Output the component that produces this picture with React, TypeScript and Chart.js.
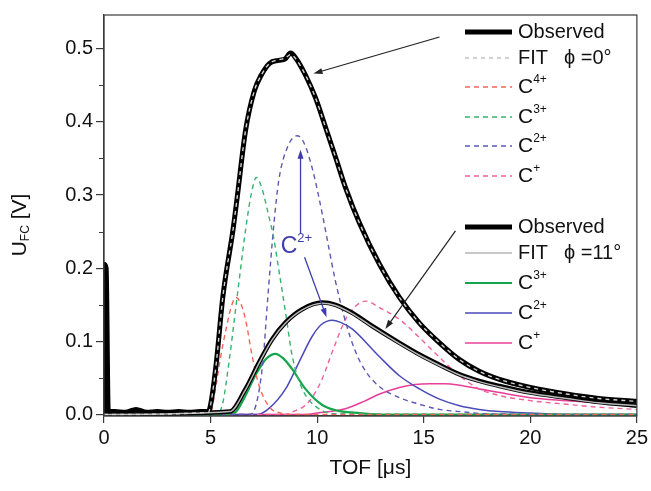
import React, { useEffect, useRef } from 'react';
import { Chart, registerables } from 'chart.js';

Chart.register(...registerables);

// ---------- data (TOF in µs, U in V) ----------
const obs0T = [0, 0.02, 0.1, 0.2, 0.5, 1.0, 1.5, 2.0, 2.5, 3.0, 3.5, 4.0, 4.5, 4.9, 5.03, 5.27, 5.58, 6.05, 6.25, 6.64, 7.05, 7.38, 7.77, 8.2, 8.5, 8.75, 9.0, 9.45, 9.92, 10.4, 10.86, 11.33, 11.98, 12.93, 13.86, 14.8, 15.74, 16.68, 17.6, 18.55, 20, 21.7, 23.2, 25];
const obs0V = [0, 0.205, 0.2, 0.004, 0.004, 0.003, 0.007, 0.003, 0.004, 0.003, 0.004, 0.003, 0.004, 0.004, 0.018, 0.071, 0.162, 0.252, 0.297, 0.388, 0.442, 0.464, 0.48, 0.484, 0.486, 0.494, 0.487, 0.464, 0.433, 0.392, 0.352, 0.31, 0.262, 0.205, 0.16, 0.125, 0.098, 0.075, 0.059, 0.048, 0.037, 0.028, 0.022, 0.018];

const fit0T = [0, 4.9, 5.03, 5.27, 5.58, 6.05, 6.25, 6.64, 7.05, 7.38, 7.77, 8.2, 8.5, 8.75, 9.0, 9.45, 9.92, 10.4, 10.86, 11.33, 11.98, 12.93, 13.86, 14.8, 15.74, 16.68, 17.6, 18.55, 20, 21.7, 23.2, 25];
const fit0V = [0, 0.003, 0.018, 0.071, 0.162, 0.252, 0.297, 0.388, 0.442, 0.464, 0.48, 0.485, 0.487, 0.492, 0.486, 0.464, 0.433, 0.392, 0.352, 0.31, 0.262, 0.205, 0.16, 0.125, 0.098, 0.075, 0.059, 0.048, 0.037, 0.028, 0.022, 0.018];

const obs11T = [0, 5.9, 6.64, 7.27, 7.89, 8.52, 9.3, 10.24, 10.86, 11.64, 12.58, 13.86, 14.8, 15.74, 16.68, 17.6, 18.55, 20, 21.7, 23.2, 25];
const obs11V = [0, 0.004, 0.035, 0.071, 0.103, 0.126, 0.144, 0.153, 0.15, 0.139, 0.121, 0.098, 0.082, 0.068, 0.055, 0.046, 0.039, 0.03, 0.023, 0.017, 0.012];

const fit11T = [0, 5.9, 6.64, 7.27, 7.89, 8.52, 9.3, 10.24, 10.86, 11.64, 12.58, 13.86, 14.8, 15.74, 16.68, 17.6, 18.55, 20, 21.7, 23.2, 25];
const fit11V = [0, 0.004, 0.034, 0.07, 0.102, 0.125, 0.143, 0.152, 0.149, 0.138, 0.12, 0.097, 0.081, 0.067, 0.054, 0.045, 0.038, 0.029, 0.022, 0.016, 0.012];

// phi = 0° components (dashed)
const c4p0T = [0, 5.0, 5.2, 5.45, 5.75, 6.0, 6.2, 6.4, 6.64, 6.95, 7.27, 7.77, 8.3, 9, 25];
const c4p0V = [0, 0.003, 0.03, 0.075, 0.12, 0.15, 0.16, 0.153, 0.13, 0.08, 0.04, 0.01, 0.002, 0, 0];

const c3p0T = [0, 5.2, 5.55, 5.86, 6.25, 6.64, 6.9, 7.15, 7.4, 7.7, 7.97, 8.2, 8.52, 8.83, 9.3, 10.08, 11, 25];
const c3p0V = [0, 0, 0.013, 0.071, 0.162, 0.252, 0.3, 0.324, 0.31, 0.275, 0.24, 0.198, 0.139, 0.08, 0.035, 0.008, 0.001, 0];

const c2p0T = [0, 6.8, 7.13, 7.45, 7.69, 7.97, 8.2, 8.6, 9.06, 9.4, 9.8, 10.27, 10.5, 10.86, 11.33, 11.8, 12.3, 12.93, 13.86, 14.8, 15.74, 16.7, 18, 25];
const c2p0V = [0, 0, 0.013, 0.071, 0.162, 0.26, 0.32, 0.365, 0.381, 0.37, 0.333, 0.27, 0.235, 0.182, 0.127, 0.086, 0.058, 0.038, 0.023, 0.014, 0.007, 0.004, 0.001, 0];

const c1p0T = [0, 8.5, 8.8, 9.6, 10.24, 10.7, 11.33, 11.8, 12.27, 12.93, 13.86, 14.8, 15.74, 16.68, 17.6, 18.55, 20, 21.7, 23.2, 25];
const c1p0V = [0, 0, 0.003, 0.017, 0.049, 0.085, 0.13, 0.148, 0.155, 0.146, 0.13, 0.105, 0.078, 0.053, 0.035, 0.026, 0.019, 0.014, 0.01, 0.007];

// phi = 11° components (solid)
const c3p11T = [0, 5.9, 6.2, 6.64, 7.0, 7.27, 7.6, 8.05, 8.4, 8.83, 9.45, 10.24, 11, 11.6, 13, 25];
const c3p11V = [0, 0, 0.004, 0.026, 0.048, 0.062, 0.076, 0.083, 0.077, 0.062, 0.035, 0.013, 0.005, 0.003, 0, 0];

const c2p11T = [0, 7.2, 7.73, 8.52, 9.14, 9.77, 10.2, 10.7, 11.1, 11.64, 12.89, 13.86, 14.8, 15.74, 16.68, 17.6, 18.55, 20, 22, 25];
const c2p11V = [0, 0, 0.008, 0.035, 0.071, 0.107, 0.123, 0.129, 0.126, 0.117, 0.08, 0.053, 0.035, 0.021, 0.012, 0.007, 0.004, 0.002, 0, 0];

const c1p11T = [0, 9.5, 10, 11.33, 12.2, 12.93, 13.86, 14.6, 15.3, 16, 16.68, 17.6, 18.55, 20, 21.7, 23.2, 25];
const c1p11V = [0, 0, 0.002, 0.008, 0.018, 0.028, 0.037, 0.041, 0.042, 0.042, 0.04, 0.035, 0.03, 0.023, 0.019, 0.016, 0.012];

const xTicks = [0, 5, 10, 15, 20, 25];
const yTicks = [0, 0.1, 0.2, 0.3, 0.4, 0.5];
const yMinorTicks = [0.05, 0.15, 0.25, 0.35, 0.45];

// annotation arrows in data coordinates [x1, y1, x2, y2]
const arrowObs0 = [15.74, 0.516, 9.83, 0.466];
const arrowObs11 = [16.49, 0.251, 13.2, 0.117];
const arrowBlueUp = [9.22, 0.247, 9.22, 0.362];
const arrowBlueDown = [9.41, 0.215, 10.44, 0.133];
const blueLabelPos = [9.03, 0.23];

const FONT = '"Liberation Sans", Arial, Helvetica, sans-serif';

const C_RED = '#f2665a';
const C_GREEN_D = '#33b56e';
const C_BLUE_D = '#5a5ab4';
const C_PINK_D = '#f0609a';
const C_GREEN = '#15a54c';
const C_BLUE = '#4a4ab8';
const C_PINK = '#e8409a';
const C_ANN_BLUE = '#3c3cac';

function pts(t: number[], v: number[]) {
  return t.map((x, i) => ({ x, y: v[i] }));
}

type Part = { t: string; size: number; dy: number };

function partsWidth(ctx: CanvasRenderingContext2D, parts: Part[]) {
  let w = 0;
  for (const p of parts) {
    ctx.font = `${p.size}px ${FONT}`;
    w += ctx.measureText(p.t).width;
  }
  return w;
}

function drawRich(ctx: CanvasRenderingContext2D, x: number, y: number, parts: Part[], color: string, align: 'left' | 'center' = 'left') {
  ctx.save();
  ctx.fillStyle = color;
  ctx.textBaseline = 'middle';
  ctx.textAlign = 'left';
  let cx = align === 'center' ? x - partsWidth(ctx, parts) / 2 : x;
  for (const p of parts) {
    ctx.font = `${p.size}px ${FONT}`;
    ctx.fillText(p.t, cx, y + p.dy);
    cx += ctx.measureText(p.t).width;
  }
  ctx.restore();
}

function drawArrow(ctx: CanvasRenderingContext2D, x1: number, y1: number, x2: number, y2: number, color: string, lw: number) {
  const ang = Math.atan2(y2 - y1, x2 - x1);
  const hl = 9, hw = 3;
  ctx.save();
  ctx.strokeStyle = color;
  ctx.fillStyle = color;
  ctx.lineWidth = lw;
  ctx.setLineDash([]);
  ctx.beginPath();
  ctx.moveTo(x1, y1);
  ctx.lineTo(x2 - Math.cos(ang) * hl * 0.6, y2 - Math.sin(ang) * hl * 0.6);
  ctx.stroke();
  ctx.beginPath();
  ctx.moveTo(x2, y2);
  ctx.lineTo(x2 - Math.cos(ang) * hl - Math.sin(ang) * hw, y2 - Math.sin(ang) * hl + Math.cos(ang) * hw);
  ctx.lineTo(x2 - Math.cos(ang) * hl + Math.sin(ang) * hw, y2 - Math.sin(ang) * hl - Math.cos(ang) * hw);
  ctx.closePath();
  ctx.fill();
  ctx.restore();
}

type LegendRow = { label: Part[]; extra?: string; color: string; width: number; dash: number[] };

const legend0: LegendRow[] = [
  { label: [{ t: 'Observed', size: 20, dy: 0 }], color: '#000', width: 5, dash: [] },
  { label: [{ t: 'FIT', size: 20, dy: 0 }], extra: 'ϕ =0°', color: '#c4c4c4', width: 1.3, dash: [4, 4] },
  { label: [{ t: 'C', size: 21, dy: 0 }, { t: '4+', size: 12, dy: -7 }], color: C_RED, width: 1.4, dash: [5, 4] },
  { label: [{ t: 'C', size: 21, dy: 0 }, { t: '3+', size: 12, dy: -7 }], color: C_GREEN_D, width: 1.4, dash: [5, 4] },
  { label: [{ t: 'C', size: 21, dy: 0 }, { t: '2+', size: 12, dy: -7 }], color: C_BLUE_D, width: 1.4, dash: [5, 4] },
  { label: [{ t: 'C', size: 21, dy: 0 }, { t: '+', size: 12, dy: -7 }], color: C_PINK_D, width: 1.4, dash: [5, 4] },
];
const legend0Y = [32, 58, 87, 117, 146, 176];

const legend11: LegendRow[] = [
  { label: [{ t: 'Observed', size: 20, dy: 0 }], color: '#000', width: 5, dash: [] },
  { label: [{ t: 'FIT', size: 20, dy: 0 }], extra: 'ϕ =11°', color: '#b4b4b4', width: 1.5, dash: [] },
  { label: [{ t: 'C', size: 21, dy: 0 }, { t: '3+', size: 12, dy: -7 }], color: C_GREEN, width: 2, dash: [] },
  { label: [{ t: 'C', size: 21, dy: 0 }, { t: '2+', size: 12, dy: -7 }], color: C_BLUE, width: 1.6, dash: [] },
  { label: [{ t: 'C', size: 21, dy: 0 }, { t: '+', size: 12, dy: -7 }], color: C_PINK, width: 1.6, dash: [] },
];
const legend11Y = [227, 253, 283, 313, 343];

const decorPlugin = {
  id: 'decor',
  afterDatasetsDraw(chart: any) {
    const ctx: CanvasRenderingContext2D = chart.ctx;
    const { left, right, top, bottom } = chart.chartArea;
    const xs = chart.scales.x;
    const ys = chart.scales.y;

    // frame
    ctx.save();
    ctx.strokeStyle = '#3a3a3a';
    ctx.lineWidth = 1.2;
    ctx.strokeRect(left, top, right - left, bottom - top);
    // minor y ticks
    ctx.beginPath();
    for (const v of yMinorTicks) {
      const py = Math.round(ys.getPixelForValue(v)) + 0.5;
      ctx.moveTo(left - 5, py);
      ctx.lineTo(left, py);
    }
    ctx.stroke();
    ctx.restore();

    // arrows
    const P = (a: number[]) => [xs.getPixelForValue(a[0]), ys.getPixelForValue(a[1]), xs.getPixelForValue(a[2]), ys.getPixelForValue(a[3])];
    let a = P(arrowObs0);
    drawArrow(ctx, a[0], a[1], a[2], a[3], '#222', 1.2);
    a = P(arrowObs11);
    drawArrow(ctx, a[0], a[1], a[2], a[3], '#222', 1.2);
    a = P(arrowBlueUp);
    drawArrow(ctx, a[0], a[1], a[2], a[3], C_ANN_BLUE, 1.3);
    a = P(arrowBlueDown);
    drawArrow(ctx, a[0], a[1], a[2], a[3], C_ANN_BLUE, 1.3);
    drawRich(ctx, xs.getPixelForValue(blueLabelPos[0]), ys.getPixelForValue(blueLabelPos[1]),
      [{ t: 'C', size: 23, dy: 0 }, { t: '2+', size: 13, dy: -8 }], C_ANN_BLUE, 'center');

    // legends
    const drawLegend = (rows: LegendRow[], ysPos: number[]) => {
      rows.forEach((r, i) => {
        const y = ysPos[i];
        ctx.save();
        ctx.strokeStyle = r.color;
        ctx.lineWidth = r.width;
        ctx.setLineDash(r.dash);
        ctx.beginPath();
        ctx.moveTo(465, y);
        ctx.lineTo(512, y);
        ctx.stroke();
        ctx.restore();
        drawRich(ctx, 518, y, r.label, '#111');
        if (r.extra) drawRich(ctx, 564, y, [{ t: r.extra, size: 20, dy: 0 }], '#111');
      });
    };
    drawLegend(legend0, legend0Y);
    drawLegend(legend11, legend11Y);

    // axis titles
    drawRich(ctx, (left + right) / 2, 468, [{ t: 'TOF [μs]', size: 21, dy: 0 }], '#111', 'center');
    ctx.save();
    ctx.translate(20, 225);
    ctx.rotate(-Math.PI / 2);
    drawRich(ctx, 0, 0, [{ t: 'U', size: 21, dy: 0 }, { t: 'FC', size: 12, dy: 6 }, { t: ' [V]', size: 21, dy: 0 }], '#111', 'center');
    ctx.restore();
  },
};

export default function App() {
  const ref = useRef<HTMLCanvasElement | null>(null);

  useEffect(() => {
    if (!ref.current) return;
    const line = (label: string, t: number[], v: number[], color: string, width: number, dash: number[], order: number) => ({
      label,
      data: pts(t, v),
      borderColor: color,
      backgroundColor: color,
      borderWidth: width,
      borderDash: dash,
      pointRadius: 0,
      fill: false,
      cubicInterpolationMode: 'monotone' as const,
      order,
    });

    const chart = new Chart(ref.current, {
      type: 'line',
      data: {
        datasets: [
          line('FIT ϕ=0°', fit0T, fit0V, '#d2d2d2', 1.4, [4, 4], 0),
          line('FIT ϕ=11°', fit11T, fit11V, '#b8b8b8', 1.5, [], 0),
          line('Observed ϕ=0°', obs0T, obs0V, '#000000', 5, [], 1),
          line('Observed ϕ=11°', obs11T, obs11V, '#000000', 4.5, [], 1),
          line('C4+ ϕ=0°', c4p0T, c4p0V, C_RED, 1.4, [5, 4], 2),
          line('C3+ ϕ=0°', c3p0T, c3p0V, C_GREEN_D, 1.4, [5, 4], 2),
          line('C2+ ϕ=0°', c2p0T, c2p0V, C_BLUE_D, 1.4, [5, 4], 2),
          line('C+ ϕ=0°', c1p0T, c1p0V, C_PINK_D, 1.4, [5, 4], 2),
          line('C3+ ϕ=11°', c3p11T, c3p11V, C_GREEN, 2.2, [], 2),
          line('C2+ ϕ=11°', c2p11T, c2p11V, C_BLUE, 1.5, [], 2),
          line('C+ ϕ=11°', c1p11T, c1p11V, C_PINK, 1.6, [], 2),
        ],
      },
      options: {
        animation: false,
        responsive: false,
        maintainAspectRatio: false,
        devicePixelRatio: 1,
        layout: { padding: { top: 12, right: 13, left: 0, bottom: 0 } },
        plugins: { legend: { display: false }, tooltip: { enabled: false } },
        scales: {
          x: {
            type: 'linear',
            min: 0,
            max: 25,
            afterBuildTicks: (s: any) => { s.ticks = xTicks.map((v) => ({ value: v })); },
            afterFit: (s: any) => { s.height = 75; },
            grid: { drawOnChartArea: false, drawTicks: true, tickLength: 7, color: '#3a3a3a', lineWidth: 1.2 },
            border: { display: true, color: '#3a3a3a', width: 1.2 },
            ticks: { font: { family: FONT, size: 20 }, color: '#111', padding: 3, maxRotation: 0 },
          },
          y: {
            type: 'linear',
            min: -0.002,
            max: 0.546,
            afterBuildTicks: (s: any) => { s.ticks = yTicks.map((v) => ({ value: v })); },
            afterFit: (s: any) => { s.width = 104; },
            grid: { drawOnChartArea: false, drawTicks: true, tickLength: 8, color: '#3a3a3a', lineWidth: 1.2 },
            border: { display: true, color: '#3a3a3a', width: 1.2 },
            ticks: { font: { family: FONT, size: 20 }, color: '#111', padding: 3, callback: (v: any) => Number(v).toFixed(1) },
          },
        },
      },
      plugins: [decorPlugin],
    });
    return () => chart.destroy();
  }, []);

  return (
    <div style={{ position: 'absolute', left: 0, top: 0, width: 651, height: 491, background: '#fff' }}>
      <canvas ref={ref} width={651} height={491} style={{ width: 651, height: 491, display: 'block' }} />
    </div>
  );
}
